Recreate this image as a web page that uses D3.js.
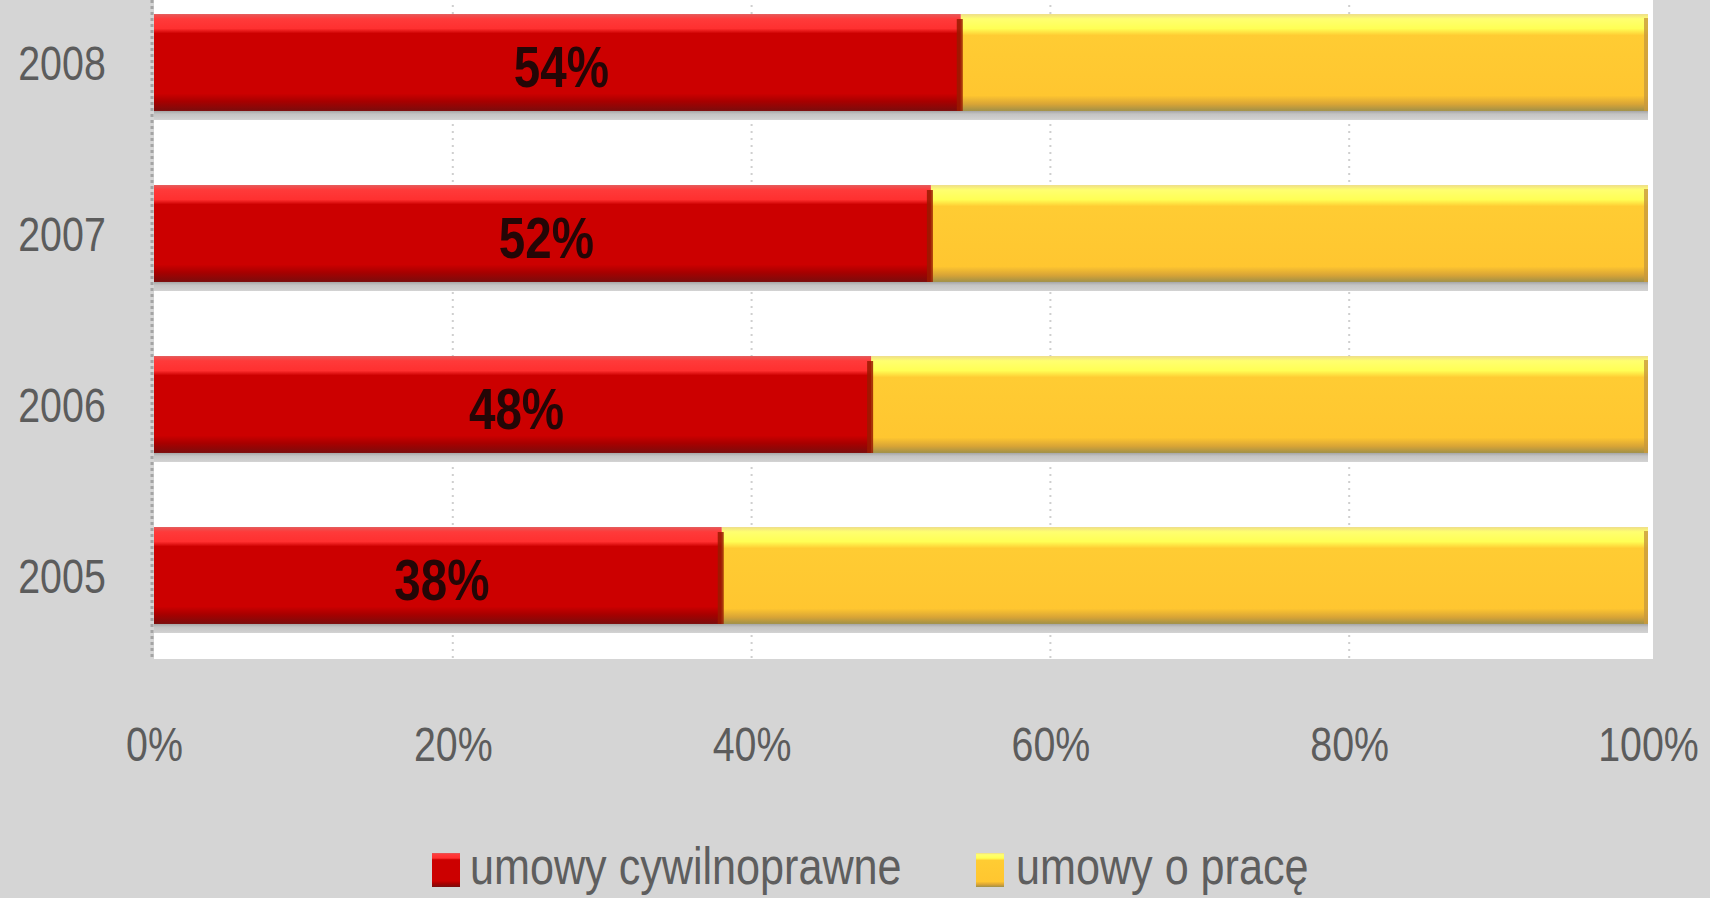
<!DOCTYPE html>
<html>
<head>
<meta charset="utf-8">
<script src="https://cdn.jsdelivr.net/npm/d3@7"></script>
<style>
  html, body { margin: 0; padding: 0; background: #d5d5d5; overflow: hidden; }
  svg { display: block; }
  text { font-family: "Liberation Sans", Arial, sans-serif; }
</style>
</head>
<body>
<svg id="chart" width="1710" height="898"></svg>
<script>
// Share of civil-law contracts vs. employment contracts, by year
const years = ["2008", "2007", "2006", "2005"];
const civilShare = [54, 52, 48, 38];      // umowy cywilnoprawne (%)
const laborShare = [46, 48, 52, 62];      // umowy o pracę (%)
const tickValues = [0, 20, 40, 60, 80, 100];
const seriesNames = ["umowy cywilnoprawne", "umowy o pracę"];

const W = 1710, H = 898;
const plot = { left: 154, right: 1648, top: -23, bottom: 661 };
const SX = 0.82; // horizontal text compression (narrow face)

const svg = d3.select("#chart");
const defs = svg.append("defs");

function vGrad(id, stops) {
  const g = defs.append("linearGradient").attr("id", id)
    .attr("x1", 0).attr("y1", 0).attr("x2", 0).attr("y2", 1);
  stops.forEach(([o, c]) => g.append("stop").attr("offset", o).attr("stop-color", c));
}
vGrad("gRed", [[0, "#e45a5a"], [0.05, "#ff3a3a"], [0.15, "#ff3030"], [0.2, "#cc0000"],
               [0.82, "#cc0000"], [0.9, "#a80000"], [1, "#7a0c0c"]]);
vGrad("gYellow", [[0, "#eedd88"], [0.05, "#ffff70"], [0.15, "#ffff55"], [0.22, "#ffcc33"],
                  [0.84, "#ffc630"], [0.93, "#d8a436"], [1, "#a09048"]]);
vGrad("gShadow", [[0, "#a6a6a6"], [0.35, "#c4c4c4"], [1, "#d2d2d2"]]);

// page background
svg.append("rect").attr("width", W).attr("height", H).attr("fill", "#d5d5d5");

const x = d3.scaleLinear().domain([0, 100]).range([plot.left, plot.right]);
const y = d3.scaleBand().domain(years).range([plot.top, plot.bottom])
  .paddingInner(0.433).paddingOuter(0.2165);

// plot area
svg.append("rect")
  .attr("x", plot.left).attr("y", -30)
  .attr("width", x(100) - plot.left + 5).attr("height", 659 + 30)
  .attr("fill", "#ffffff");

// vertical gridlines
svg.append("g").selectAll("line")
  .data(tickValues.slice(1, -1))
  .join("line")
  .attr("x1", d => x(d)).attr("x2", d => x(d))
  .attr("y1", -30).attr("y2", 659)
  .attr("stroke", "#cfcfcf").attr("stroke-width", 2)
  .attr("stroke-dasharray", "2,5");

// category axis line
svg.append("line")
  .attr("x1", plot.left - 2).attr("x2", plot.left - 2)
  .attr("y1", -30).attr("y2", 659)
  .attr("stroke", "#a4a4a4").attr("stroke-width", 3)
  .attr("stroke-dasharray", "3,3");

const rows = years.map((yr, i) => ({ yr, civil: civilShare[i], labor: laborShare[i] }));
const bw = y.bandwidth();

// bar shadows
svg.append("g").selectAll("rect")
  .data(rows).join("rect")
  .attr("x", x(0)).attr("y", d => y(d.yr) + bw)
  .attr("width", x(100) - x(0)).attr("height", 9)
  .attr("fill", "url(#gShadow)");

// employment contracts segment
svg.append("g").selectAll("rect")
  .data(rows).join("rect")
  .attr("x", d => x(d.civil)).attr("y", d => y(d.yr))
  .attr("width", d => x(d.civil + d.labor) - x(d.civil)).attr("height", bw)
  .attr("fill", "url(#gYellow)");

// right edge of the yellow bars
svg.append("g").selectAll("rect")
  .data(rows).join("rect")
  .attr("x", d => x(d.civil + d.labor) - 4).attr("y", d => y(d.yr) + 4)
  .attr("width", 4).attr("height", bw - 4)
  .attr("fill", "#c99a3c").attr("opacity", 0.8);

// civil-law contracts segment
svg.append("g").selectAll("rect")
  .data(rows).join("rect")
  .attr("x", x(0)).attr("y", d => y(d.yr))
  .attr("width", d => x(d.civil) - x(0)).attr("height", bw)
  .attr("fill", "url(#gRed)");

// dark seam between segments
svg.append("g").selectAll("rect")
  .data(rows).join("rect")
  .attr("x", d => x(d.civil) - 4).attr("y", d => y(d.yr) + 5)
  .attr("width", 6).attr("height", bw - 5)
  .attr("fill", "#9a1a00").attr("opacity", 0.85);

// value labels inside the red segments
svg.append("g").selectAll("text")
  .data(rows).join("text")
  .attr("transform", d => `translate(${(x(0) + x(d.civil)) / 2 + 4},${y(d.yr) + bw / 2 + 24}) scale(${SX},1)`)
  .attr("text-anchor", "middle")
  .attr("font-size", 58).attr("font-weight", "bold")
  .attr("fill", "#240606")
  .text(d => d.civil + "%");

// year axis
const yAxis = svg.append("g")
  .attr("transform", "translate(62,0)")
  .call(d3.axisLeft(y).tickSize(0).tickPadding(0));
yAxis.select(".domain").remove();
yAxis.selectAll("text")
  .attr("x", 0).attr("dy", null).attr("y", 17)
  .attr("text-anchor", "middle")
  .attr("transform", `scale(${SX},1)`)
  .attr("font-size", 48)
  .attr("fill", "#5c5c5c")
  .style("font-family", "'Liberation Sans', Arial, sans-serif");

// percentage axis
const xAxis = svg.append("g")
  .attr("transform", "translate(0,761)")
  .call(d3.axisBottom(x).tickValues(tickValues).tickFormat(d => d + "%").tickSize(0));
xAxis.select(".domain").remove();
xAxis.selectAll("text")
  .attr("y", 0).attr("dy", null)
  .attr("transform", `scale(${SX},1)`)
  .attr("font-size", 48)
  .attr("fill", "#5c5c5c")
  .style("font-family", "'Liberation Sans', Arial, sans-serif");

// legend
const legendItems = [
  { name: seriesNames[0], fill: "url(#gRed)", sx: 432, tx: 470 },
  { name: seriesNames[1], fill: "url(#gYellow)", sx: 976, tx: 1016 }
];
const lg = svg.append("g").selectAll("g").data(legendItems).join("g");
lg.append("rect")
  .attr("x", d => d.sx).attr("y", 853)
  .attr("width", 28).attr("height", 34)
  .attr("fill", d => d.fill);
lg.append("text")
  .attr("transform", d => `translate(${d.tx},884) scale(0.83,1)`)
  .attr("font-size", 52)
  .attr("fill", "#5e5e5e")
  .text(d => d.name);
</script>
</body>
</html>
